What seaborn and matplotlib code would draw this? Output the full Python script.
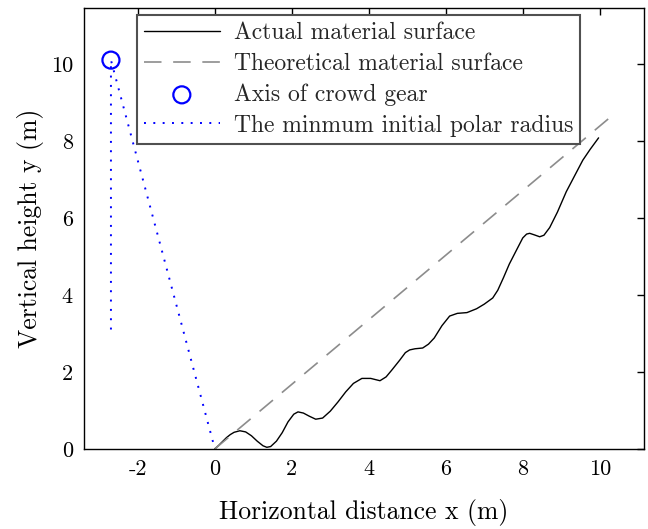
import matplotlib
matplotlib.use("Agg")
import matplotlib.pyplot as plt
import seaborn as sns

sns.set_theme(style="white")
plt.rcParams["font.family"] = ["cmr10", "DejaVu Serif"]
plt.rcParams["axes.unicode_minus"] = False
plt.rcParams["mathtext.fontset"] = "cm"

# Actual material surface profile (m)
actual_x = [0.0, 0.1, 0.2, 0.3, 0.4, 0.5, 0.65, 0.8, 0.95, 1.1, 1.25, 1.35, 1.45,
            1.6, 1.75, 1.9, 2.05, 2.16, 2.3, 2.45, 2.62, 2.8, 3.0, 3.2, 3.4, 3.6,
            3.82, 4.05, 4.29, 4.45, 4.6, 4.8, 4.95, 5.06, 5.2, 5.4, 5.55, 5.7,
            5.9, 6.1, 6.3, 6.55, 6.8, 7.0, 7.22, 7.35, 7.5, 7.65, 7.84, 8.0,
            8.1, 8.18, 8.3, 8.44, 8.55, 8.7, 8.9, 9.13, 9.35, 9.56, 9.75, 9.97]
actual_y = [0.0, 0.09, 0.19, 0.29, 0.37, 0.43, 0.47, 0.44, 0.34, 0.2, 0.08, 0.04,
            0.06, 0.2, 0.42, 0.7, 0.9, 0.96, 0.93, 0.85, 0.77, 0.8, 0.98, 1.22,
            1.48, 1.7, 1.83, 1.83, 1.77, 1.87, 2.05, 2.3, 2.5, 2.57, 2.6, 2.62,
            2.72, 2.88, 3.2, 3.45, 3.52, 3.54, 3.64, 3.76, 3.92, 4.12, 4.45,
            4.8, 5.17, 5.48, 5.58, 5.6, 5.56, 5.51, 5.55, 5.75, 6.15, 6.68, 7.1,
            7.5, 7.78, 8.08]

# Theoretical material surface (straight slope)
theory_x = [0.0, 10.35]
theory_y = [0.0, 8.68]

# Axis of crowd gear
gear_x = [-2.7]
gear_y = [10.1]

# Minimum initial polar radius construction
radius_x = [-2.7, -2.7, 0.0]
radius_y = [3.1, 10.1, 0.0]

fig = plt.figure(figsize=(6.48, 5.29), dpi=100)
ax = fig.add_axes([84 / 648, 80 / 529, 560 / 648, 441 / 529])

sns.lineplot(x=actual_x, y=actual_y, sort=False, estimator=None, ax=ax,
             color="black", lw=1.0, label="Actual material surface")
sns.lineplot(x=theory_x, y=theory_y, sort=False, estimator=None, ax=ax,
             color="#8c8c8c", lw=1.2, label="Theoretical material surface")
ax.lines[-1].set_dashes((10.5, 7))
sns.scatterplot(x=gear_x, y=gear_y, ax=ax, marker="o", s=150, facecolor="none",
                edgecolor="#0000ff", linewidth=1.6, label="Axis of crowd gear",
                zorder=5)
sns.lineplot(x=radius_x, y=radius_y, sort=False, estimator=None, ax=ax,
             color="#0000ff", lw=1.4, label="The minmum initial polar radius")
ax.lines[-1].set_linestyle((0, (1, 3.8)))

ax.set_xlim(-3.4, 11.15)
ax.set_ylim(0, 11.45)
ax.set_aspect("equal")
ax.set_xticks([-2, 0, 2, 4, 6, 8, 10])
ax.set_yticks([0, 2, 4, 6, 8, 10])
ax.set_xticklabels(["-2", "0", "2", "4", "6", "8", "10"])
ax.tick_params(direction="in", length=5, width=1, top=True, right=True,
               labelsize=16, color="black", labelcolor="black", pad=8)
for sp in ax.spines.values():
    sp.set_color("black")
    sp.set_linewidth(1.0)

ax.set_xlabel("Horizontal distance x (m)", fontsize=18.5, color="black", labelpad=14)
ax.set_ylabel("Vertical height y (m)", fontsize=18.5, color="black", labelpad=5)

leg = ax.legend(loc="upper left", bbox_to_anchor=(0.0946, 0.984), fontsize=17,
                frameon=True, fancybox=False, framealpha=1, edgecolor="#505050",
                handlelength=3.2, handletextpad=0.6, borderpad=0.3,
                labelspacing=0.36, borderaxespad=0)
leg.get_frame().set_linewidth(1.5)

fig.savefig("out.png", dpi=100)
